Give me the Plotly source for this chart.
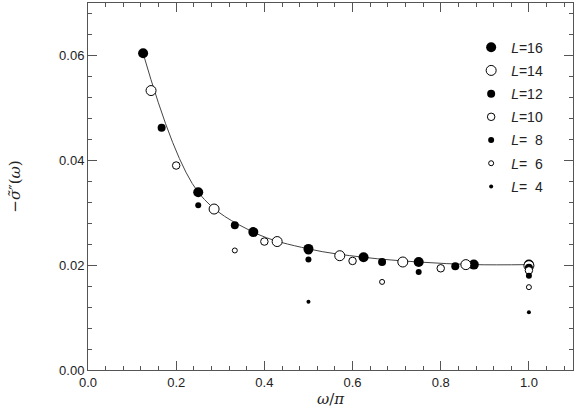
import plotly.graph_objects as go

# omega/pi positions and -sigma''(omega) values per system size L
L16_x = [0.125, 0.25, 0.375, 0.5, 0.625, 0.75, 0.875, 1.0]
L16_y = [0.0604, 0.0339, 0.0263, 0.0231, 0.0215, 0.0206, 0.0201, 0.0201]
L14_x = [0.143, 0.286, 0.429, 0.571, 0.714, 0.857, 1.0]
L14_y = [0.0533, 0.0307, 0.0245, 0.0218, 0.0206, 0.0201, 0.0199]
L12_x = [0.167, 0.333, 0.5, 0.667, 0.833, 1.0]
L12_y = [0.0462, 0.0276, 0.0228, 0.0206, 0.0198, 0.0195]
L10_x = [0.2, 0.4, 0.6, 0.8, 1.0]
L10_y = [0.0390, 0.0245, 0.0208, 0.0194, 0.0190]
L8_x = [0.25, 0.5, 0.75, 1.0]
L8_y = [0.0314, 0.0211, 0.0187, 0.0180]
L6_x = [0.333, 0.667, 1.0]
L6_y = [0.0228, 0.0168, 0.0158]
L4_x = [0.5, 1.0]
L4_y = [0.0130, 0.0110]

x_ticks = [0.0, 0.2, 0.4, 0.6, 0.8, 1.0]
y_ticks = [0.00, 0.02, 0.04, 0.06]

fig = go.Figure()

# smooth curve through the largest system
fig.add_trace(go.Scatter(x=L16_x, y=L16_y, mode="lines",
                         line=dict(color="#444", width=1, shape="spline", smoothing=1.0),
                         showlegend=False, hoverinfo="skip"))

series = [
    ("<i>L</i>=16", L16_x, L16_y, 10, True),
    ("<i>L</i>=14", L14_x, L14_y, 10, False),
    ("<i>L</i>=12", L12_x, L12_y, 8, True),
    ("<i>L</i>=10", L10_x, L10_y, 7.5, False),
    ("<i>L</i>=&nbsp;&nbsp;8", L8_x, L8_y, 6, True),
    ("<i>L</i>=&nbsp;&nbsp;6", L6_x, L6_y, 5, False),
    ("<i>L</i>=&nbsp;&nbsp;4", L4_x, L4_y, 4, True),
]
for i, (name, xs, ys, sz, filled) in enumerate(series):
    fig.add_trace(go.Scatter(
        x=xs, y=ys, mode="markers", name=name, legendgroup=f"g{i}",
        marker=dict(size=sz, symbol="circle",
                    color="black" if filled else "white",
                    line=dict(color="black", width=0 if filled else 1)),
    ))

axis_common = dict(showline=True, linecolor="#555", linewidth=1, mirror="ticks",
                   ticks="inside", ticklen=9, tickcolor="#555", showgrid=False,
                   zeroline=False, tickfont=dict(family="Liberation Sans", size=13, color="#222"))

fig.update_xaxes(range=[0, 1.1], tickvals=x_ticks, tickformat=".1f",
                 minor=dict(ticks="inside", ticklen=4, dtick=0.04, tick0=0, tickcolor="#555"),
                 title=dict(text="<i>ω</i>/<i>π</i>", font=dict(family="DejaVu Serif", size=15, color="#222"),
                            standoff=0),
                 **axis_common)
fig.update_yaxes(range=[0, 0.07], tickvals=y_ticks, tickformat=".2f",
                 minor=dict(ticks="inside", ticklen=4, dtick=0.004, tick0=0, tickcolor="#555"),
                 title=dict(text="−<i>σ̃</i>″(<i>ω</i>)", font=dict(family="DejaVu Serif", size=15, color="#222"),
                            standoff=34),
                 **axis_common)

fig.update_layout(
    width=577, height=415,
    margin=dict(l=88, r=4, t=3, b=45),
    plot_bgcolor="white", paper_bgcolor="white",
    legend=dict(x=0.79, y=0.922, xanchor="left", yanchor="top",
                font=dict(family="Liberation Sans", size=14, color="#222"),
                itemsizing="trace", tracegroupgap=2, bgcolor="rgba(0,0,0,0)"),
)

fig.write_html("out.html", config={"displayModeBar": False},
               post_script="document.body.style.margin='0';document.body.style.overflow='hidden';")
